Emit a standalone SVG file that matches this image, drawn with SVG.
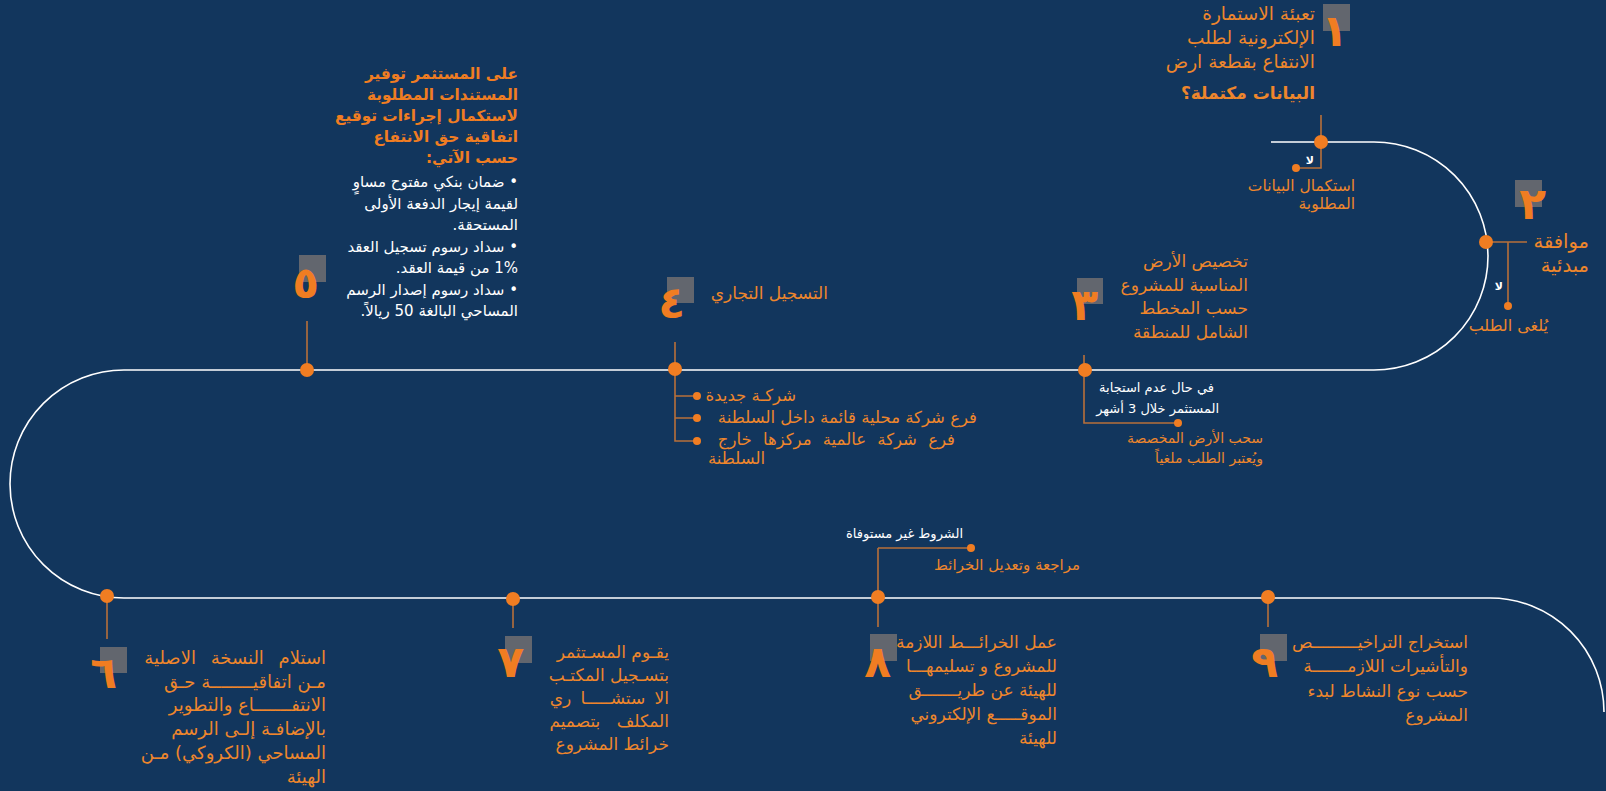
<svg xmlns="http://www.w3.org/2000/svg" width="1606" height="791" viewBox="0 0 1606 791">
<style>
.path{fill:none;stroke:#ffffff;stroke-width:1.6}
.conn{fill:none;stroke:#b8703a;stroke-width:1.6}
.dot{fill:#f07d22}
.sdot{fill:#f07d22}
.sq{fill:#62666e}
.num{font-family:"DejaVu Sans",sans-serif;font-weight:bold;font-size:44px;fill:#f07d22}
.t{font-family:"DejaVu Sans",sans-serif;font-size:17px;fill:#ee862c}
.s{font-family:"DejaVu Sans",sans-serif;font-size:14px;fill:#ee862c}
.w{font-family:"DejaVu Sans",sans-serif;font-size:15px;fill:#ffffff}
.ws{font-family:"DejaVu Sans",sans-serif;font-size:13px;fill:#ffffff}
.b{font-family:"DejaVu Sans",sans-serif;font-weight:bold;font-size:17px;fill:#ee862c}
.b5{font-family:"DejaVu Sans",sans-serif;font-weight:bold;font-size:15.3px;fill:#f07d22}
.no{font-family:"DejaVu Sans",sans-serif;font-weight:bold;font-size:11px;fill:#ffffff}
.sub{font-family:"DejaVu Sans",sans-serif;font-size:16.5px;fill:#ee862c}
</style>
<rect width="1606" height="791" fill="#12365d"/>
<g id="connectors">
<path class="path" d="M1271,142 H1374 A114,114 0 0 1 1374,370 H124 A114,114 0 0 0 124,598 H1490 A114,114 0 0 1 1604,712"/>
<path class="conn" d="M1321,115 V168 H1296"/>
<path class="conn" d="M1486,242 H1527 M1508,242 V306"/>
<path class="conn" d="M1084,355 V423 H1178"/>
<path class="conn" d="M675,342 V441 H697 M675,396 H697 M675,418 H697"/>
<path class="conn" d="M307,321 V370"/>
<path class="conn" d="M107,596 V639"/>
<path class="conn" d="M513,599 V628"/>
<path class="conn" d="M878,548 V627 M878,548 H971"/>
<path class="conn" d="M1268,597 V627"/>
</g>
<g id="step1">
<rect class="sq" x="1323" y="4" width="27" height="27"/>
<text class="num" x="1348" y="46" direction="rtl" text-anchor="start">١</text>
<text class="t" x="1315" y="20" direction="rtl" text-anchor="start" style="font-size:18.5px">تعبئة الاستمارة</text>
<text class="t" x="1315" y="44" direction="rtl" text-anchor="start" style="font-size:18.5px">الإلكترونية لطلب</text>
<text class="t" x="1315" y="68" direction="rtl" text-anchor="start" style="font-size:18.5px">الانتفاع بقطعة ارض</text>
<text class="b" x="1315" y="99" direction="rtl" text-anchor="start">البيانات مكتملة؟</text>
<circle class="dot" cx="1321" cy="142" r="7"/>
<circle class="sdot" cx="1296" cy="168" r="4"/>
<text class="no" x="1314" y="164" direction="rtl" text-anchor="start">لا</text>
<text class="s" x="1355" y="191" direction="rtl" text-anchor="start" style="font-size:15.5px">استكمال البيانات</text>
<text class="s" x="1355" y="209" direction="rtl" text-anchor="start" style="font-size:15.5px">المطلوبة</text>
</g>
<g id="step2">
<rect class="sq" x="1515" y="180" width="27" height="27"/>
<text class="num" x="1546" y="219" direction="rtl" text-anchor="start">٢</text>
<circle class="dot" cx="1486" cy="242" r="7"/>
<circle class="sdot" cx="1508" cy="306" r="4"/>
<text class="no" x="1503" y="290" direction="rtl" text-anchor="start">لا</text>
<text class="t" x="1589" y="248" direction="rtl" text-anchor="start" style="font-size:19.5px">موافقة</text>
<text class="t" x="1589" y="272" direction="rtl" text-anchor="start" style="font-size:19.5px">مبدئية</text>
<text class="s" x="1548" y="331" direction="rtl" text-anchor="start" style="font-size:16px">يُلغى الطلب</text>
</g>
<g id="step3">
<rect class="sq" x="1077" y="278" width="26" height="26"/>
<text class="num" x="1098" y="320" direction="rtl" text-anchor="start">٣</text>
<text class="t" x="1248" y="267" direction="rtl" text-anchor="start">تخصيص الأرض</text>
<text class="t" x="1248" y="291" direction="rtl" text-anchor="start">المناسبة للمشروع</text>
<text class="t" x="1248" y="314" direction="rtl" text-anchor="start">حسب المخطط</text>
<text class="t" x="1248" y="338" direction="rtl" text-anchor="start">الشامل للمنطقة</text>
<circle class="dot" cx="1085" cy="370" r="7"/>
<circle class="sdot" cx="1178" cy="423" r="4"/>
<text class="ws" x="1214" y="392" direction="rtl" text-anchor="start">في حال عدم استجابة</text>
<text class="ws" x="1219" y="413" direction="rtl" text-anchor="start">المستثمر خلال 3 أشهر</text>
<text class="s" x="1263" y="443" direction="rtl" text-anchor="start">سحب الأرض المخصصة</text>
<text class="s" x="1263" y="463" direction="rtl" text-anchor="start">ويُعتبر الطلب ملغياً</text>
</g>
<g id="step4">
<rect class="sq" x="667" y="277" width="27" height="26"/>
<text class="num" x="685" y="318" direction="rtl" text-anchor="start">٤</text>
<text class="t" x="828" y="299" direction="rtl" text-anchor="start">التسجيل التجاري</text>
<circle class="dot" cx="675" cy="369" r="7"/>
<circle class="sdot" cx="697" cy="396" r="4"/>
<circle class="sdot" cx="697" cy="418" r="4"/>
<circle class="sdot" cx="697" cy="441" r="4"/>
<text class="sub" x="796" y="401" direction="rtl" text-anchor="start">شركـة جديدة</text>
<text class="sub" x="977" y="423" direction="rtl" text-anchor="start">فرع شركة محلية قائمة داخل السلطنة</text>
<text class="sub" x="955" y="445" direction="rtl" text-anchor="start" style="word-spacing:6px">فرع شركة عالمية مركزها خارج</text>
<text class="sub" x="708" y="464" direction="rtl" text-anchor="end">السلطنة</text>
</g>
<g id="step5">
<rect class="sq" x="299" y="255" width="27" height="27"/>
<text class="num" x="319" y="298" direction="rtl" text-anchor="start">٥</text>
<circle class="dot" cx="307" cy="370" r="7"/>
<text class="b5" x="518" y="79" direction="rtl" text-anchor="start">على المستثمر توفير</text>
<text class="b5" x="518" y="100" direction="rtl" text-anchor="start">المستندات المطلوبة</text>
<text class="b5" x="518" y="121" direction="rtl" text-anchor="start">لاستكمال إجراءات توقيع</text>
<text class="b5" x="518" y="142" direction="rtl" text-anchor="start">اتفاقية حق الانتفاع</text>
<text class="b5" x="518" y="163" direction="rtl" text-anchor="start">حسب الآتي:</text>
<text class="w" x="518" y="187" direction="rtl" text-anchor="start">• ضمان بنكي مفتوح مساوٍ</text>
<text class="w" x="518" y="208.5" direction="rtl" text-anchor="start">لقيمة إيجار الدفعة الأولى</text>
<text class="w" x="518" y="230" direction="rtl" text-anchor="start">المستحقة.</text>
<text class="w" x="518" y="251.5" direction="rtl" text-anchor="start">• سداد رسوم تسجيل العقد</text>
<text class="w" x="518" y="273" direction="rtl" text-anchor="start">1% من قيمة العقد.</text>
<text class="w" x="518" y="294.5" direction="rtl" text-anchor="start">• سداد رسوم إصدار الرسم</text>
<text class="w" x="518" y="316" direction="rtl" text-anchor="start">المساحي البالغة 50 ريالاً.</text>
</g>
<g id="step6">
<rect class="sq" x="100" y="647" width="27" height="26"/>
<text class="num" x="117" y="688" direction="rtl" text-anchor="start">٦</text>
<circle class="dot" cx="107" cy="596" r="7"/>
<text class="t" x="326" y="664" direction="rtl" text-anchor="start" style="font-size:18px;word-spacing:9px">استلام النسخة الاصلية</text>
<text class="t" x="326" y="688" direction="rtl" text-anchor="start" style="font-size:18px">مـن اتفاقيــــــــة حـق</text>
<text class="t" x="326" y="711" direction="rtl" text-anchor="start" style="font-size:18px">الانتفـــــــاع والتطوير</text>
<text class="t" x="326" y="735" direction="rtl" text-anchor="start" style="font-size:18px">بالإضافـة إلـى الرسم</text>
<text class="t" x="326" y="759" direction="rtl" text-anchor="start" style="font-size:18px">المساحي (الكروكي) مـن</text>
<text class="t" x="326" y="783" direction="rtl" text-anchor="start" style="font-size:18px">الهيئة</text>
</g>
<g id="step7">
<rect class="sq" x="505" y="636" width="27" height="27"/>
<text class="num" x="524" y="677" direction="rtl" text-anchor="start">٧</text>
<circle class="dot" cx="513" cy="599" r="7"/>
<text class="t" x="669" y="658" direction="rtl" text-anchor="start">يقـوم المسـتثمر</text>
<text class="t" x="669" y="681" direction="rtl" text-anchor="start">بتسـجيل المكتـب</text>
<text class="t" x="669" y="704" direction="rtl" text-anchor="start" style="word-spacing:4px">الا ستشـــــا ري</text>
<text class="t" x="669" y="727" direction="rtl" text-anchor="start" style="word-spacing:11px">المكلف بتصميم</text>
<text class="t" x="669" y="750" direction="rtl" text-anchor="start">خرائط المشروع</text>
</g>
<g id="step8">
<rect class="sq" x="870" y="634" width="27" height="27"/>
<text class="num" x="891" y="677" direction="rtl" text-anchor="start">٨</text>
<circle class="dot" cx="878" cy="597" r="7"/>
<circle class="sdot" cx="971" cy="548" r="4"/>
<text class="ws" x="963" y="538" direction="rtl" text-anchor="start">الشروط غير مستوفاة</text>
<text class="s" x="1080" y="570" direction="rtl" text-anchor="start" style="font-size:15px">مراجعة وتعديل الخرائط</text>
<text class="t" x="1057" y="648" direction="rtl" text-anchor="start">عمل الخرائـــط اللازمة</text>
<text class="t" x="1057" y="672" direction="rtl" text-anchor="start">للمشروع و تسليمهـــا</text>
<text class="t" x="1057" y="696" direction="rtl" text-anchor="start">للهيئة عن طريـــــــق</text>
<text class="t" x="1057" y="720" direction="rtl" text-anchor="start">الموقـــــع الإلكتروني</text>
<text class="t" x="1057" y="744" direction="rtl" text-anchor="start">للهيئة</text>
</g>
<g id="step9">
<rect class="sq" x="1260" y="634" width="27" height="27"/>
<text class="num" x="1278" y="677" direction="rtl" text-anchor="start">٩</text>
<circle class="dot" cx="1268" cy="597" r="7"/>
<text class="t" x="1468" y="648" direction="rtl" text-anchor="start">استخراج التراخيـــــــــص</text>
<text class="t" x="1468" y="672" direction="rtl" text-anchor="start">والتأشيرات اللازمـــــــة</text>
<text class="t" x="1468" y="697" direction="rtl" text-anchor="start">حسب نوع النشاط لبدء</text>
<text class="t" x="1468" y="721" direction="rtl" text-anchor="start">المشروع</text>
</g>
</svg>
